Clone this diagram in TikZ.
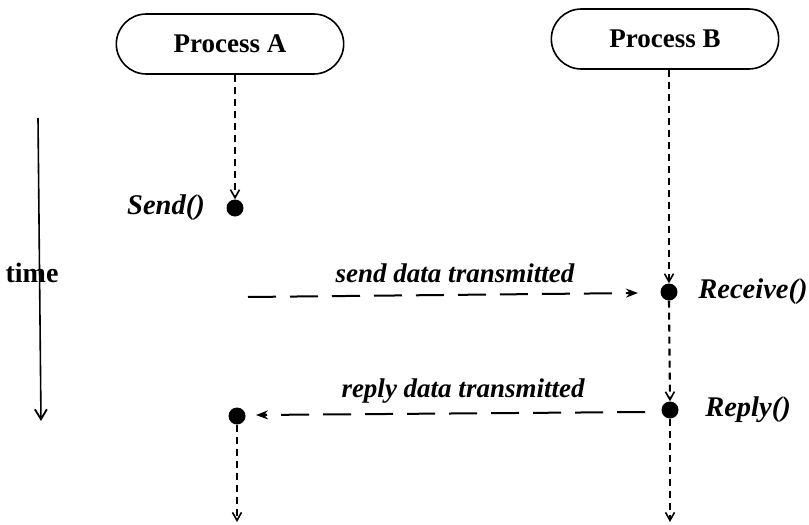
\documentclass[tikz,border=0pt]{standalone}
\usepackage{fontspec}
\setmainfont{Liberation Serif}
\usetikzlibrary{arrows.meta,shapes.misc}
\begin{document}
\begin{tikzpicture}[x=1pt,y=-1pt,
  procbox/.style={draw,line width=1.6pt,rounded rectangle,minimum width=234pt,minimum height=60pt,
    font=\fontsize{27}{30}\selectfont\bfseries},
  event/.style={circle,fill=black,inner sep=0pt,minimum size=17pt},
  evlabel/.style={font=\fontsize{28.5}{32}\selectfont\bfseries\itshape},
  msglabel/.style={font=\fontsize{27}{30}\selectfont\bfseries\itshape},
  lifeline/.style={line width=2.1pt,dash pattern=on 7pt off 5pt,-{Straight Barb[length=8pt,width=9pt,line width=1.6pt]}},
  message/.style={line width=2pt,dash pattern=on 28pt off 14pt,-{Stealth[length=12pt,width=9pt]}},
  lbl/.style={inner sep=0pt}]
  \fill[white] (0,0) rectangle (809,525);
  \useasboundingbox (0,0) rectangle (809,525);

  % process headers
  \node[procbox] (pa) at (230,44) {Process A};
  \node[procbox] (pb) at (665,39) {Process B};

  % events
  \node[event] (send) at (235,208) {};
  \node[event] (recv) at (669,292) {};
  \node[event] (reply) at (670,410) {};
  \node[event] (back) at (237,416) {};

  \node[evlabel,lbl] (sendl) at (166,208) {Send()};
  \node[evlabel,lbl] (recvl) at (753,292) {Receive()};
  \node[evlabel,lbl] (replyl) at (748,410) {Reply()};

  % time axis
  \coordinate (t0) at (38,118);
  \coordinate (t1) at (41,421);
  \draw[line width=1.6pt,-{Straight Barb[length=10pt,width=12pt,line width=1.8pt]}] (t0) -- (t1);
  \node[lbl,font=\fontsize{28}{32}\selectfont\bfseries] (time) at (32,273) {time};

  % lifelines
  \coordinate (aend) at (237,522);
  \coordinate (bend) at (670,522);
  \draw[lifeline] (pa.south -| send) -- (send.north);
  \draw[lifeline] (pb.south -| recv) -- (recv.north);
  \draw[lifeline] (recv.south) -- (reply.north);
  \draw[lifeline] (back.south) -- (aend);
  \draw[lifeline] (reply.south) -- (bend);

  % messages
  \coordinate (m1s) at (248,297);
  \coordinate (m1e) at (638,293);
  \coordinate (m2s) at (645,412);
  \coordinate (m2e) at (256,415);
  \draw[message] (m1s) -- (m1e);
  \draw[message] (m2s) -- (m2e);
  \node[msglabel,lbl] (m1l) at (455,273) {send data transmitted};
  \node[msglabel,lbl] (m2l) at (463,391) {reply data transmitted};
\end{tikzpicture}
\end{document}
